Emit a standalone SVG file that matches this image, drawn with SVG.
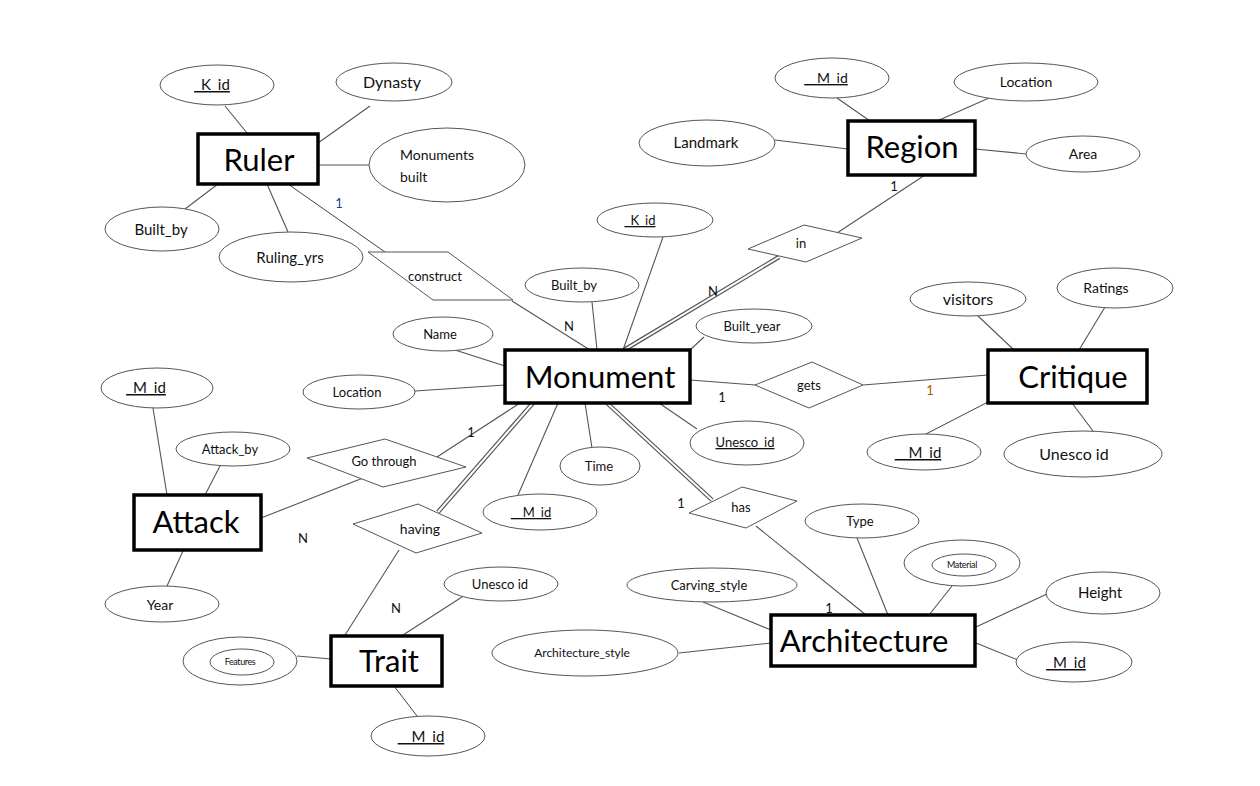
<svg xmlns="http://www.w3.org/2000/svg" width="1260" height="786" viewBox="0 0 1260 786">
<style>
  .ent rect { fill: #fff; stroke: #000; stroke-width: 3.5; }
  .ent text { font-family: Lato, "Liberation Sans", sans-serif; font-size: 31px; fill: #000; text-anchor: middle; }
  .att ellipse { fill: #fff; stroke: #555; stroke-width: 1; }
  .att text { font-family: Lato, "Liberation Sans", sans-serif; font-size: 14px; fill: #111; text-anchor: middle; }
  .rel polygon { fill: #fff; stroke: #555; stroke-width: 1; }
  .rel text { font-family: Lato, "Liberation Sans", sans-serif; font-size: 13px; fill: #111; text-anchor: middle; }
  .u { text-decoration: underline; }
  #connectors line { stroke: #555; stroke-width: 1.1; }
  #connectors line.thin { stroke: #111; stroke-width: 0.8; }
  #connectors line.dblo { stroke: #555; stroke-width: 4.4; }
  #connectors line.dbli { stroke: #fff; stroke-width: 2; }
  .card { font-family: Lato, "Liberation Sans", sans-serif; font-size: 13px; fill: #111; text-anchor: middle; }
</style>
<rect width="1260" height="786" fill="#fff"/>
<g id="connectors">
  <!-- Ruler attributes -->
  <line x1="225" y1="106" x2="247" y2="133"/>
  <line x1="370" y1="106" x2="318" y2="143"/>
  <line x1="318" y1="165" x2="370" y2="165"/>
  <line x1="218" y1="184" x2="185" y2="209"/>
  <line x1="267" y1="184" x2="288" y2="232"/>
  <line class="thin" x1="288" y1="184" x2="385" y2="252"/>
  <line x1="512" y1="301" x2="590" y2="350"/>
  <!-- Region -->
  <line x1="837" y1="98" x2="870" y2="121"/>
  <line x1="989" y1="98" x2="937" y2="121"/>
  <line x1="775" y1="140" x2="848" y2="149"/>
  <line x1="975" y1="149" x2="1037" y2="155"/>
  <line x1="925" y1="175" x2="837" y2="233"/>
  <line class="dblo" x1="779" y1="257" x2="624" y2="350"/>
  <line class="dbli" x1="779" y1="257" x2="624" y2="350"/>
  <!-- Monument attributes -->
  <line x1="663" y1="237" x2="623" y2="350"/>
  <line x1="592" y1="302" x2="597" y2="350"/>
  <line x1="455" y1="350" x2="505" y2="366"/>
  <line x1="415" y1="391" x2="505" y2="385"/>
  <line x1="704" y1="337" x2="690" y2="350"/>
  <line x1="659" y1="403" x2="697" y2="429"/>
  <line x1="585" y1="403" x2="592" y2="448"/>
  <line x1="558" y1="403" x2="518" y2="495"/>
  <line x1="690" y1="380" x2="755" y2="385"/>
  <line x1="863" y1="385" x2="988" y2="375"/>
  <!-- Critique -->
  <line x1="978" y1="316" x2="1014" y2="350"/>
  <line x1="1105" y1="307" x2="1079" y2="350"/>
  <line x1="1072" y1="403" x2="1093" y2="431"/>
  <line class="thin" x1="988" y1="402" x2="924" y2="435"/>
  <!-- Attack -->
  <line x1="153" y1="408" x2="167" y2="495"/>
  <line x1="220" y1="466" x2="205" y2="495"/>
  <line x1="183" y1="551" x2="167" y2="586"/>
  <line x1="261" y1="518" x2="363" y2="478"/>
  <line x1="437" y1="457" x2="520" y2="403"/>
  <!-- having / Trait -->
  <line class="dblo" x1="438" y1="512" x2="533" y2="403"/>
  <line class="dbli" x1="438" y1="512" x2="533" y2="403"/>
  <line x1="399" y1="550" x2="345" y2="635"/>
  <line x1="462" y1="597" x2="403" y2="635"/>
  <line x1="297" y1="656" x2="331" y2="659"/>
  <line class="thin" x1="394" y1="686" x2="417" y2="716"/>
  <!-- has / Architecture -->
  <line class="dblo" x1="607" y1="403" x2="712" y2="500"/>
  <line class="dbli" x1="607" y1="403" x2="712" y2="500"/>
  <line x1="756" y1="526" x2="866" y2="615"/>
  <line x1="857" y1="538" x2="888" y2="615"/>
  <line x1="952" y1="586" x2="929" y2="615"/>
  <line x1="1047" y1="594" x2="976" y2="627"/>
  <line x1="976" y1="643" x2="1018" y2="660"/>
  <line x1="703" y1="602" x2="771" y2="630"/>
  <line x1="679" y1="653" x2="771" y2="643"/>
  <!-- cardinalities -->
  <text class="card" x="339" y="208" style="fill:#1f3f8f">1</text>
  <text class="card" x="569" y="331">N</text>
  <text class="card" x="894" y="191">1</text>
  <text class="card" x="713" y="296">N</text>
  <text class="card" x="722" y="402">1</text>
  <text class="card" x="930" y="395" style="fill:#b05a00">1</text>
  <text class="card" x="471" y="437">1</text>
  <text class="card" x="303" y="543">N</text>
  <text class="card" x="396" y="613">N</text>
  <text class="card" x="681" y="508">1</text>
  <text class="card" x="829" y="613">1</text>
</g>

<!-- Entities -->
<g id="ruler" class="ent"><rect x="198" y="134" width="120" height="50"/><text x="259" y="171">Ruler</text></g>
<g id="region" class="ent"><rect x="848" y="121" width="127" height="54"/><text x="912" y="158">Region</text></g>
<g id="monument" class="ent"><rect x="505" y="350" width="185" height="53"/><text x="600" y="388">Monument</text></g>
<g id="critique" class="ent"><rect x="988" y="350" width="159" height="53"/><text x="1073" y="388">Critique</text></g>
<g id="attack" class="ent"><rect x="134" y="495" width="127" height="55"/><text x="196" y="533">Attack</text></g>
<g id="trait" class="ent"><rect x="331" y="636" width="111" height="50"/><text x="389" y="672">Trait</text></g>
<g id="architecture" class="ent"><rect x="771" y="615" width="204" height="51"/><text x="864" y="652">Architecture</text></g>

<!-- Relationships -->
<g id="construct" class="rel"><polygon points="368,252 448,252 513,300 433,300"/><text x="435" y="281" font-size="12">construct</text></g>
<g id="in" class="rel"><polygon points="748,249 804,225 862,238 806,262"/><text x="801" y="248">in</text></g>
<g id="gets" class="rel"><polygon points="755,385 812,362 863,385 809,408"/><text x="809" y="390">gets</text></g>
<g id="go-through" class="rel"><polygon points="307,458 385,439 466,467 383,487"/><text x="384" y="466">Go through</text></g>
<g id="having" class="rel"><polygon points="353,524 418,504 482,533 416,553"/><text x="420" y="534" style="font-size:14px">having</text></g>
<g id="has" class="rel"><polygon points="689,513 742,487 797,501 746,528"/><text x="741" y="512">has</text></g>

<!-- Attributes: Ruler -->
<g id="ruler-kid" class="att"><ellipse cx="217" cy="85" rx="57" ry="20"/><text x="212" y="90" class="u" style="font-size:15px">_K_id</text></g>
<g id="ruler-dynasty" class="att"><ellipse cx="394" cy="82" rx="58" ry="19"/><text x="392" y="88" style="font-size:16px">Dynasty</text></g>
<g id="ruler-monuments-built" class="att"><ellipse cx="447" cy="165" rx="78" ry="37"/><text x="400" y="160" style="text-anchor:start">Monuments</text><text x="400" y="182" style="text-anchor:start">built</text></g>
<g id="ruler-builtby" class="att"><ellipse cx="162" cy="229" rx="57" ry="22"/><text x="161" y="235" style="font-size:15px">Built_by</text></g>
<g id="ruler-rulingyrs" class="att"><ellipse cx="291" cy="257" rx="72" ry="25"/><text x="290" y="263" style="font-size:15px">Ruling_yrs</text></g>

<!-- Attributes: Region -->
<g id="region-mid" class="att"><ellipse cx="832" cy="78" rx="57" ry="20"/><text x="826" y="83" class="u">__M_id</text></g>
<g id="region-location" class="att"><ellipse cx="1026" cy="82" rx="72" ry="19"/><text x="1026" y="87">Location</text></g>
<g id="region-landmark" class="att"><ellipse cx="707" cy="143" rx="68" ry="23"/><text x="706" y="148" style="font-size:15px">Landmark</text></g>
<g id="region-area" class="att"><ellipse cx="1083" cy="154" rx="57" ry="18"/><text x="1083" y="159">Area</text></g>

<!-- Attributes: Monument -->
<g id="mon-kid" class="att"><ellipse cx="655" cy="220" rx="58" ry="17"/><text x="640" y="225" class="u" style="font-size:13px">_K_id</text></g>
<g id="mon-builtby" class="att"><ellipse cx="582" cy="285" rx="57" ry="17"/><text x="574" y="290" style="font-size:13px">Built_by</text></g>
<g id="mon-name" class="att"><ellipse cx="443" cy="334" rx="50" ry="17"/><text x="440" y="339" style="font-size:13px">Name</text></g>
<g id="mon-location" class="att"><ellipse cx="359" cy="392" rx="56" ry="17"/><text x="357" y="397" style="font-size:13px">Location</text></g>
<g id="mon-builtyear" class="att"><ellipse cx="754" cy="326" rx="58" ry="17"/><text x="752" y="331" style="font-size:13px">Built_year</text></g>
<g id="mon-unescoid" class="att"><ellipse cx="747" cy="443" rx="57" ry="22"/><text x="745" y="447" class="u" style="font-size:13px">Unesco_id</text></g>
<g id="mon-time" class="att"><ellipse cx="600" cy="466" rx="40" ry="19"/><text x="599" y="471" style="font-size:13px">Time</text></g>
<g id="mon-mid" class="att"><ellipse cx="540" cy="512" rx="57" ry="18"/><text x="531" y="517" class="u" style="font-size:13px">__M_id</text></g>

<!-- Attributes: Critique -->
<g id="crit-visitors" class="att"><ellipse cx="968" cy="299" rx="58" ry="17"/><text x="968" y="305" style="font-size:16px">visitors</text></g>
<g id="crit-ratings" class="att"><ellipse cx="1115" cy="288" rx="58" ry="20"/><text x="1106" y="293">Ratings</text></g>
<g id="crit-unescoid" class="att"><ellipse cx="1083" cy="454" rx="79" ry="23"/><text x="1074" y="460" style="font-size:16px">Unesco  id</text></g>
<g id="crit-mid" class="att"><ellipse cx="924" cy="452" rx="57" ry="18"/><text x="918" y="458" class="u" style="font-size:15px">__M_id</text></g>

<!-- Attributes: Attack -->
<g id="attack-mid" class="att"><ellipse cx="157" cy="388" rx="56" ry="20"/><text x="146" y="393" class="u" style="font-size:15px">_M_id</text></g>
<g id="attack-attackby" class="att"><ellipse cx="233" cy="449" rx="57" ry="17"/><text x="230" y="454" style="font-size:13px">Attack_by</text></g>
<g id="attack-year" class="att"><ellipse cx="162" cy="604" rx="57" ry="18"/><text x="160" y="610">Year</text></g>

<!-- Attributes: Trait -->
<g id="trait-unescoid" class="att"><ellipse cx="501" cy="584" rx="57" ry="17"/><text x="500" y="589" style="font-size:13px">Unesco  id</text></g>
<g id="trait-features" class="att"><ellipse cx="240" cy="661" rx="57" ry="24"/><ellipse cx="242" cy="662" rx="32" ry="13"/><text x="240" y="665" style="font-size:9px;letter-spacing:-0.4px">Features</text></g>
<g id="trait-mid" class="att"><ellipse cx="428" cy="736" rx="57" ry="20"/><text x="421" y="742" class="u" style="font-size:15px">__M_id</text></g>

<!-- Attributes: Architecture -->
<g id="arch-type" class="att"><ellipse cx="862" cy="521" rx="57" ry="17"/><text x="860" y="526" style="font-size:13px">Type</text></g>
<g id="arch-material" class="att"><ellipse cx="962" cy="563" rx="58" ry="23"/><ellipse cx="964" cy="565" rx="32" ry="11"/><text x="962" y="568" style="font-size:9px;letter-spacing:-0.3px">Material</text></g>
<g id="arch-height" class="att"><ellipse cx="1103" cy="593" rx="57" ry="21"/><text x="1100" y="598" style="font-size:15px">Height</text></g>
<g id="arch-mid" class="att"><ellipse cx="1074" cy="662" rx="58" ry="20"/><text x="1066" y="668" class="u" style="font-size:15px">_M_id</text></g>
<g id="arch-carving" class="att"><ellipse cx="712" cy="585" rx="85" ry="17"/><text x="709" y="590" style="font-size:13px">Carving_style</text></g>
<g id="arch-archstyle" class="att"><ellipse cx="585" cy="653" rx="93" ry="23"/><text x="582" y="657" style="font-size:12px">Architecture_style</text></g>
</svg>
